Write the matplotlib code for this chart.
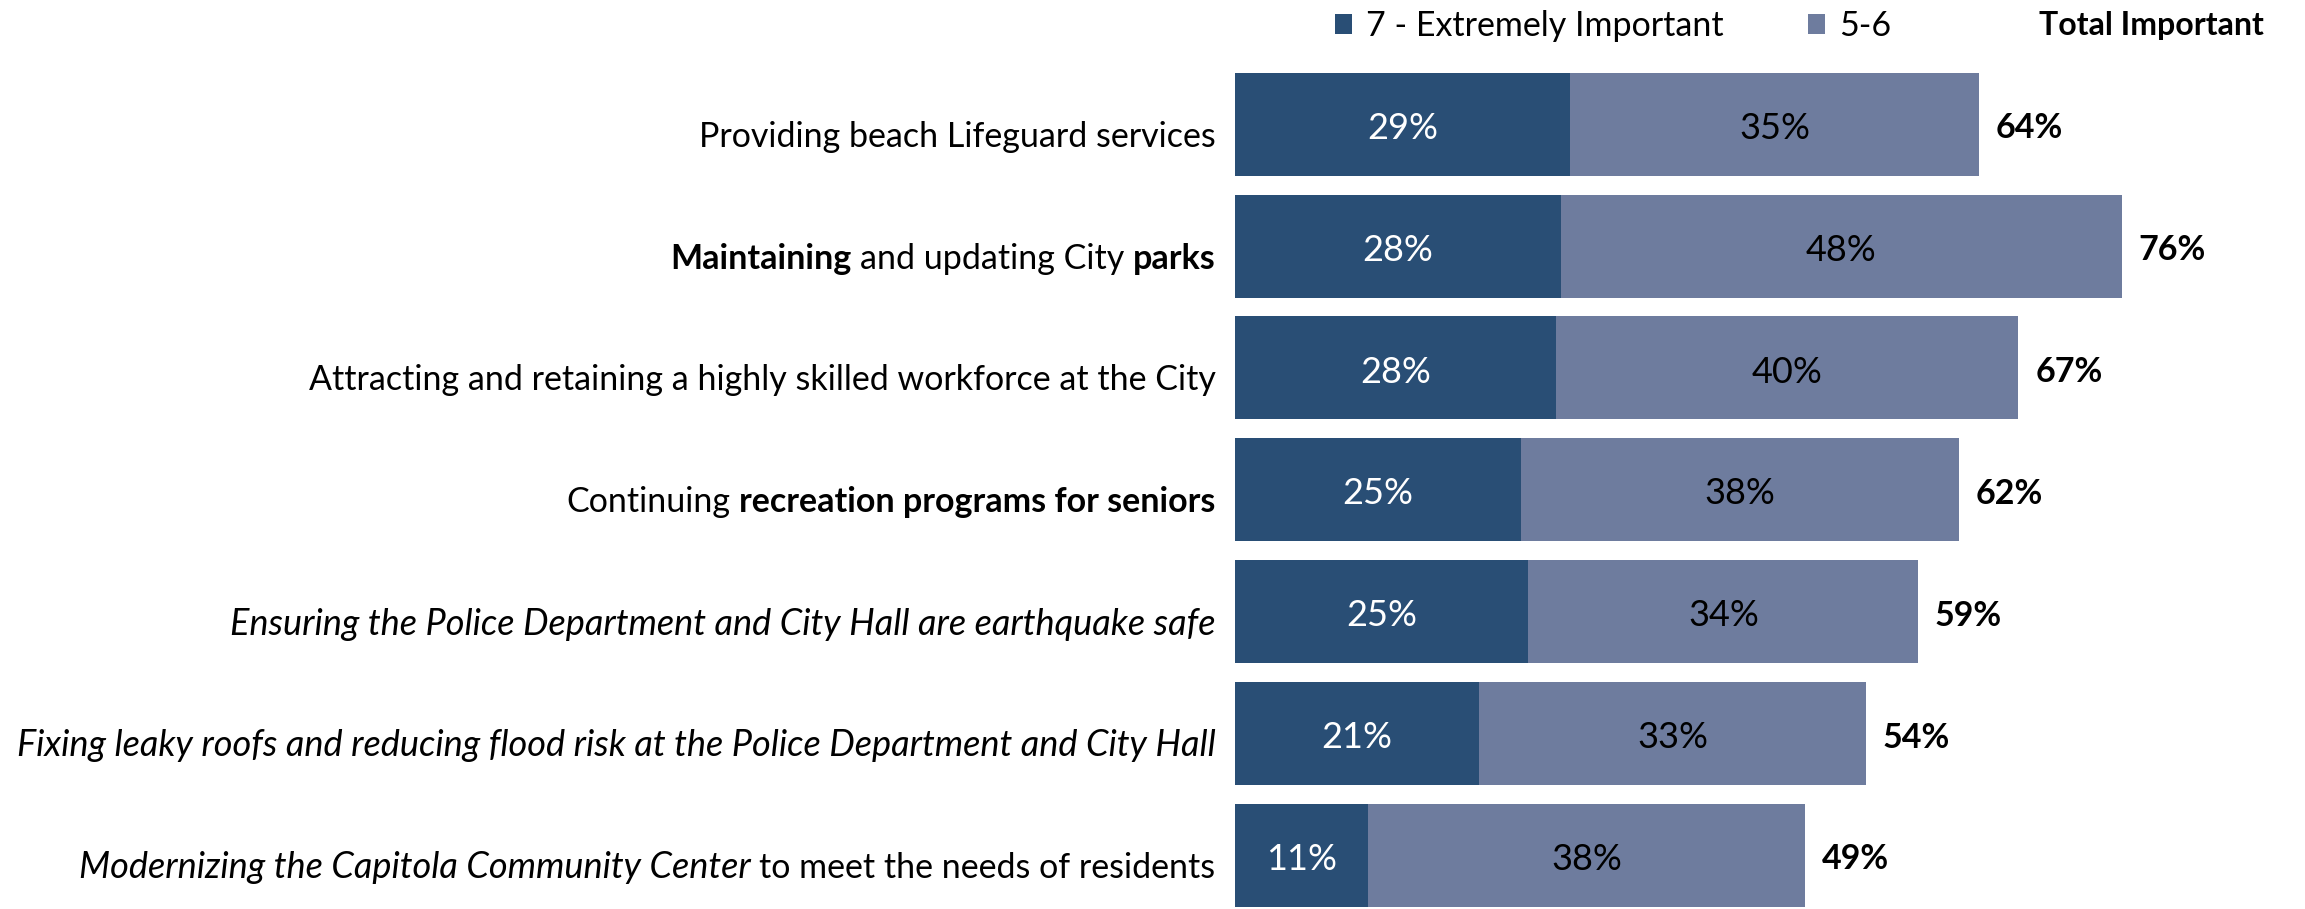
import matplotlib
matplotlib.use("Agg")
import matplotlib.pyplot as plt

plt.rcParams["font.family"] = ["Lato", "DejaVu Sans"]

# rows from top to bottom; each label is made of (text, weight, style) pieces
row_labels = [
    [("Providing beach Lifeguard services", "normal", "normal")],
    [("Maintaining", "bold", "normal"), ("and updating City", "normal", "normal"),
     ("parks", "bold", "normal")],
    [("Attracting and retaining a highly skilled workforce at the City", "normal", "normal")],
    [("Continuing", "normal", "normal"), ("recreation programs for seniors", "bold", "normal")],
    [("Ensuring the Police Department and City Hall are earthquake safe", "normal", "italic")],
    [("Fixing leaky roofs and reducing flood risk at the Police Department and City Hall",
      "normal", "italic")],
    [("Modernizing the Capitola Community Center", "normal", "italic"),
     ("to meet the needs of residents", "normal", "normal")],
]
extremely = [28.8, 28.0, 27.6, 24.6, 25.2, 21.0, 11.4]
important_56 = [35.1, 48.2, 39.7, 37.6, 33.5, 33.2, 37.6]
extremely_txt = ["29%", "28%", "28%", "25%", "25%", "21%", "11%"]
important_txt = ["35%", "48%", "40%", "38%", "34%", "33%", "38%"]
total_txt = ["64%", "76%", "67%", "62%", "59%", "54%", "49%"]

DARK = "#294e75"
LIGHT = "#6e7c9e"
FS = 24.5
FS_IT = 26
FS_NUM = 26

fig = plt.figure(figsize=(23.05, 9.09), dpi=100)
ax = fig.add_axes([1235 / 2305, -0.0079, 1071 / 2305, 0.9383])

y = range(len(extremely))
b1 = ax.barh(y, extremely, height=0.845, color=DARK, label="7 - Extremely Important")
b2 = ax.barh(y, important_56, left=extremely, height=0.845, color=LIGHT, label="5-6")
inner = ax.bar_label(b1, labels=extremely_txt, label_type="center", color="white",
                     fontsize=FS_NUM)
inner += ax.bar_label(b2, labels=important_txt, label_type="center", color="black",
                      fontsize=FS_NUM)
for t in inner:
    t.xyann = (0, -3)
for t in ax.bar_label(b2, labels=total_txt, padding=12, fontsize=FS, fontweight="bold"):
    t.xyann = (12, -3)
ax.set_xlim(0, 92)
ax.set_ylim(6.5, -0.5)
ax.axis("off")

# row labels, right aligned, pieces chained from right to left
for i, pieces in enumerate(row_labels):
    prev = None
    for text, weight, style in reversed(pieces):
        size = FS_IT if style == "italic" else FS
        if prev is None:
            prev = ax.annotate(text, xy=(0, i), xycoords=("axes fraction", "data"),
                               xytext=(-14, -9), textcoords="offset points",
                               ha="right", va="center", fontsize=size,
                               fontweight=weight, fontstyle=style)
        else:
            prev = ax.annotate(text, xy=(0, 0), xycoords=prev,
                               xytext=(-size * 0.25, 0), textcoords="offset points",
                               ha="right", va="bottom", fontsize=size,
                               fontweight=weight, fontstyle=style)

fig.legend(handles=[b1, b2], loc="center left", bbox_to_anchor=(1335 / 2305, 1 - 26 / 909),
           ncol=2, frameon=False, fontsize=FS, handlelength=0.5, handleheight=0.5,
           handletextpad=0.4, columnspacing=2.5, borderpad=0, borderaxespad=0)
fig.text(2264 / 2305, 1 - 26 / 909, "Total Important", ha="right", va="center",
         fontsize=23, fontweight="bold")

fig.savefig("out.png", dpi=100)
